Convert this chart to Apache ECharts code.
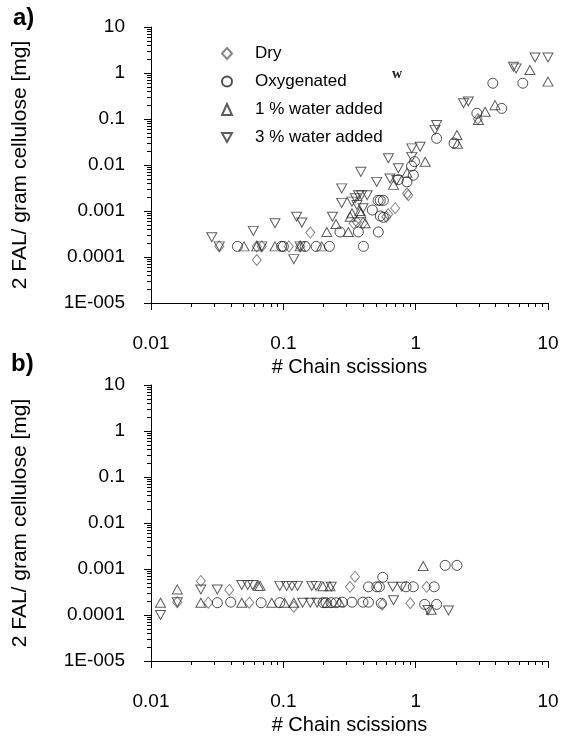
<!DOCTYPE html>
<html>
<head>
<meta charset="utf-8">
<script src="https://cdn.jsdelivr.net/npm/echarts@6/dist/echarts.min.js"></script>
<style>html,body{margin:0;padding:0;background:#fff;}#chart{width:563px;height:736px;}</style>
</head>
<body>
<div id="chart"></div>
<script>
// ---------- data (x = # chain scissions, y = 2 FAL / gram cellulose [mg]) ----------
const seriesNames = ['Dry', 'Oxygenated', '1 % water added', '3 % water added'];
const yTickLabels = ['1E-005', '0.0001', '0.001', '0.01', '0.1', '1', '10'];
const xTickLabels = ['0.01', '0.1', '1', '10'];

// Panel a
const aDry = [[0.0328,0.00017],[0.063,0.00017],[0.063,0.000086],[0.0687,0.00017],[0.11,0.00017],[0.134,0.00017],
  [0.16,0.00034],[0.34,0.00054],[0.36,0.00058],[0.40,0.00054],[0.60,0.00075],[0.62,0.00085],[0.70,0.00115],
  [0.88,0.0022],[0.86,0.0024],[2.95,0.1]];
const aOxy = [[0.045,0.00017],[0.097,0.00017],[0.1,0.00017],[0.146,0.00017],[0.177,0.00017],[0.223,0.00017],
  [0.268,0.00035],[0.369,0.00035],[0.403,0.00017],[0.522,0.00035],[0.47,0.00105],[0.52,0.0017],[0.54,0.0017],
  [0.57,0.0017],[0.54,0.00078],[0.57,0.00073],[0.74,0.0048],[0.86,0.0043],[0.93,0.0095],[0.96,0.006],
  [0.98,0.0118],[1.44,0.038],[1.95,0.03],[2.9,0.133],[3.83,0.6],[4.47,0.17],[6.45,0.6]];
const aW1 = [[0.0505,0.00017],[0.063,0.00017],[0.0865,0.00017],[0.134,0.00017],[0.195,0.00017],[0.213,0.00035],
  [0.31,0.00035],[0.25,0.00052],[0.33,0.00089],[0.385,0.00089],[0.32,0.00075],[0.38,0.001],[0.415,0.00054],
  [0.68,0.0037],[0.86,0.0068],[1.18,0.0118],[2.05,0.045],[2.07,0.029],[2.98,0.095],[3.35,0.144],[3.98,0.2],
  [7.3,1.16],[10,0.65]];
const aW3 = [[0.0288,0.00027],[0.0328,0.00017],[0.0593,0.00037],[0.0687,0.00017],[0.0865,0.00054],[0.12,0.00009],
  [0.126,0.00075],[0.138,0.00056],[0.134,0.00017],[0.235,0.00075],[0.276,0.0015],[0.276,0.0031],[0.33,0.0016],
  [0.35,0.0019],[0.36,0.00135],[0.37,0.0022],[0.39,0.0022],[0.43,0.0022],[0.385,0.0071],[0.40,0.00115],
  [0.508,0.0043],[0.622,0.014],[0.64,0.0051],[0.72,0.0047],[0.74,0.0085],[0.935,0.015],[0.935,0.023],
  [1.08,0.025],[1.4,0.058],[1.44,0.074],[2.3,0.22],[2.5,0.24],[5.48,1.37],[5.74,1.26],[7.98,2.17],[10,2.17]];

// Panel b
const bDry = [[0.0158,0.00019],[0.0238,0.00055],[0.0271,0.000185],[0.039,0.00035],[0.0553,0.000185],
  [0.12,0.00015],[0.319,0.00041],[0.348,0.00068],[0.56,0.00017],[0.91,0.00018],[1.21,0.00041]];
const bOxy = [[0.0317,0.000185],[0.04,0.00019],[0.068,0.000185],[0.094,0.000185],[0.2,0.000185],[0.21,0.000185],
  [0.23,0.000185],[0.25,0.000185],[0.28,0.00019],[0.33,0.00019],[0.40,0.00019],[0.44,0.00019],[0.55,0.00018],
  [0.44,0.00041],[0.508,0.00041],[0.532,0.00041],[0.564,0.00066],[0.846,0.00041],[0.96,0.00041],[1.38,0.00041],
  [1.17,0.00017],[1.44,0.00017],[1.67,0.0012],[2.05,0.0012]];
const bW1 = [[0.0118,0.000185],[0.0158,0.00036],[0.0238,0.000185],[0.0485,0.000185],[0.0647,0.00043],
  [0.0667,0.00043],[0.0817,0.000185],[0.102,0.000185],[0.12,0.000185],[0.199,0.00042],[0.225,0.00042],
  [0.266,0.00019],[0.215,0.000185],[1.14,0.00116],[1.31,0.00013]];
const bW3 = [[0.0118,0.0001],[0.0158,0.00019],[0.0238,0.00036],[0.0317,0.00036],[0.0485,0.00045],[0.0538,0.00045],
  [0.0587,0.00045],[0.094,0.00043],[0.106,0.00043],[0.116,0.00043],[0.128,0.00043],[0.164,0.00043],
  [0.177,0.00043],[0.23,0.00041],[0.671,0.00041],[0.785,0.00041],[0.68,0.00021],[1.24,0.000128],
  [1.77,0.000125],[0.14,0.000185],[0.16,0.000185],[0.18,0.000185]];

// minor tick values (2..9 within each decade)
const xMinor = [], yMinor = [];
for (let k = -2; k <= 0; k++) for (let m = 2; m <= 9; m++) xMinor.push(m * Math.pow(10, k));
for (let k = -5; k <= 0; k++) for (let m = 2; m <= 9; m++) yMinor.push(m * Math.pow(10, k));

// ---------- chart ----------
const FONT = 'Liberation Sans, Arial, sans-serif';
const chart = echarts.init(document.getElementById('chart'), null, {renderer: 'canvas'});
const symbols = ['diamond', 'circle', 'triangle', 'path://M0,0 L10,0 L5,9 Z'];
const sizes = [[9, 11], 10, [10, 9], [10, 9]];
const strokes = ['#666', '#222', '#333', '#333'];

function fmtY(v) { return yTickLabels[Math.round(Math.log10(v)) + 5] || ''; }
function fmtX(v) { return xTickLabels[Math.round(Math.log10(v)) + 2] || ''; }

const grids = [
  {left: 151, top: 27, width: 397, height: 276},
  {left: 151, top: 385, width: 397, height: 276}
];
const xAxes = [], yAxes = [];
for (let i = 0; i < 2; i++) {
  xAxes.push({
    gridIndex: i, type: 'log', logBase: 10, min: 0.01, max: 10,
    name: '# Chain scissions', nameLocation: 'middle', nameGap: 54,
    nameTextStyle: {fontFamily: FONT, fontSize: 20, color: '#000'},
    axisLine: {lineStyle: {color: '#000', width: 1}},
    axisTick: {show: true, inside: false, length: 7, lineStyle: {color: '#000', width: 1}},
    axisLabel: {fontFamily: FONT, fontSize: 19, color: '#000', margin: 31, formatter: fmtX},
    splitLine: {show: false}
  });
  yAxes.push({
    gridIndex: i, type: 'log', logBase: 10, min: 0.00001, max: 10,
    name: '2 FAL/ gram cellulose [mg]', nameLocation: 'middle', nameGap: 120,
    nameTextStyle: {fontFamily: FONT, fontSize: 21, color: '#000'},
    axisLine: {lineStyle: {color: '#000', width: 1}},
    axisTick: {show: true, inside: false, length: 7, lineStyle: {color: '#000', width: 1}},
    axisLabel: {fontFamily: FONT, fontSize: 19, color: '#000', margin: 26, formatter: fmtY},
    splitLine: {show: false}
  });
}

const panelData = [[aDry, aOxy, aW1, aW3], [bDry, bOxy, bW1, bW3]];
const series = [];
for (let p = 0; p < 2; p++) {
  for (let s = 0; s < 4; s++) {
    series.push({
      type: 'scatter', name: seriesNames[s], xAxisIndex: p, yAxisIndex: p,
      symbol: symbols[s], symbolSize: sizes[s],
      itemStyle: {color: 'rgba(255,255,255,0)', borderColor: strokes[s], borderWidth: 1},
      data: panelData[p][s], z: 3
    });
  }
}

const texts = [
  {type: 'text', left: 13, top: 6, style: {text: 'a)', fontFamily: FONT, fontSize: 24, fontWeight: 'bold', fill: '#000'}},
  {type: 'text', left: 11, top: 352, style: {text: 'b)', fontFamily: FONT, fontSize: 24, fontWeight: 'bold', fill: '#000'}},
  {type: 'text', left: 392, top: 67, style: {text: 'w', fontFamily: 'Liberation Serif, serif', fontSize: 14, fontWeight: 'bold', fill: '#222'}}
];

chart.setOption({
  animation: false,
  backgroundColor: '#fff',
  grid: grids,
  xAxis: xAxes,
  yAxis: yAxes,
  legend: {
    data: seriesNames, orient: 'vertical', left: 216, top: 40, itemGap: 11,
    itemWidth: 10, itemHeight: 11, selectedMode: false,
    textStyle: {fontFamily: FONT, fontSize: 17, color: '#000', padding: [0, 0, 0, 18]}
  },
  graphic: texts,
  series: series
});

// minor ticks, positioned through the axes' own log scales
const tickEls = [];
for (let p = 0; p < 2; p++) {
  xMinor.forEach(v => {
    const pt = chart.convertToPixel({gridIndex: p}, [v, 0.00001]);
    const x = Math.round(pt[0]) + 0.5, y = Math.round(pt[1]);
    tickEls.push({type: 'line', silent: true, z: 10, shape: {x1: x, y1: y, x2: x, y2: y + 4}, style: {stroke: '#000', lineWidth: 1}});
  });
  yMinor.forEach(v => {
    const pt = chart.convertToPixel({gridIndex: p}, [0.01, v]);
    const x = Math.round(pt[0]), y = Math.round(pt[1]) + 0.5;
    tickEls.push({type: 'line', silent: true, z: 10, shape: {x1: x - 4, y1: y, x2: x, y2: y}, style: {stroke: '#000', lineWidth: 1}});
  });
}
chart.setOption({graphic: texts.concat(tickEls)}, {replaceMerge: ['graphic']});
</script>
</body>
</html>
